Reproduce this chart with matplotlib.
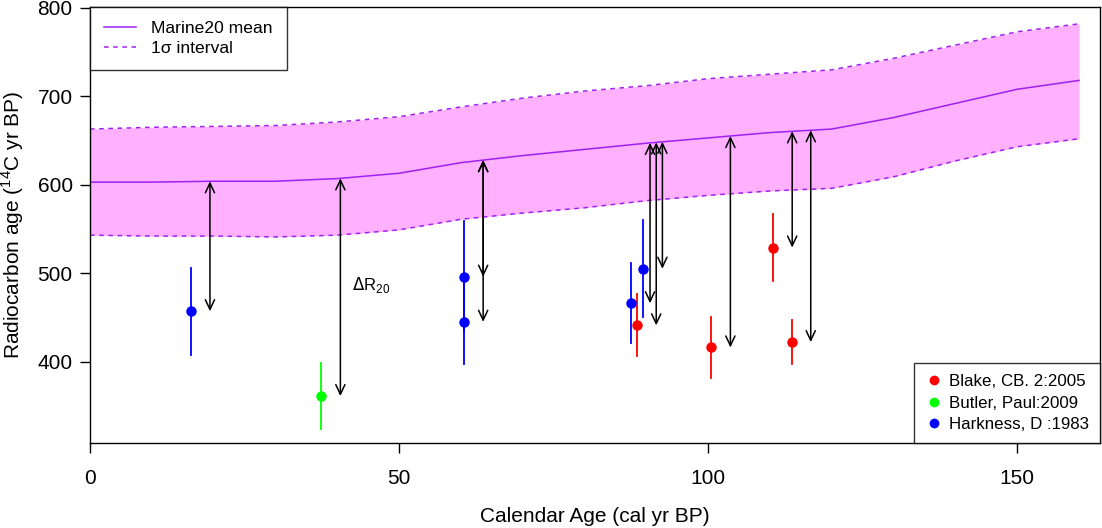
import numpy as np
import matplotlib
matplotlib.use('Agg')
import matplotlib.pyplot as plt
from matplotlib.lines import Line2D

plt.rcParams['font.family'] = ['Liberation Sans', 'DejaVu Sans']

# Marine20 curve (calendar age, mean and 1-sigma limits)
cal_age = [0, 10, 20, 30, 40, 50, 60, 70, 80, 90, 100, 110, 120, 130, 140, 150, 160]
c14_mean = [603, 603, 604, 604, 607, 613, 625, 633, 640, 647, 653, 659, 663, 676, 692, 708, 718]
c14_upper = [663, 665, 666, 667, 671, 677, 688, 698, 706, 712, 720, 725, 730, 743, 758, 773, 782]
c14_lower = [543, 542, 542, 541, 543, 549, 561, 568, 574, 582, 588, 593, 596, 609, 627, 643, 652]

# Observations
blake_x = [88.5, 100.5, 110.5, 113.5]
blake_y = [441, 416, 529, 422]
blake_err = [35, 35, 38, 25]

butler_x = [37.4]
butler_y = [361]
butler_err = [37]

harkness_x = [16.3, 60.5, 60.5, 87.5, 89.5]
harkness_y = [457, 496, 445, 466, 505]
harkness_err = [49, 63, 48, 45, 55]

arrow_offset = 3.1

fig = plt.figure(figsize=(11.02, 5.28), dpi=100)
ax = fig.add_axes([0.0817, 0.161, 0.9165, 0.8257])

purple = '#A020F0'
ax.fill_between(cal_age, c14_lower, c14_upper, color='#FFB0FF', lw=0, zorder=1)
ax.plot(cal_age, c14_mean, color=purple, lw=1.1, zorder=2)
ax.plot(cal_age, c14_upper, color=purple, lw=1.1, ls=(0, (3, 3)), zorder=2)
ax.plot(cal_age, c14_lower, color=purple, lw=1.1, ls=(0, (3, 3)), zorder=2)

groups = [(blake_x, blake_y, blake_err, '#FF0000'),
          (butler_x, butler_y, butler_err, '#00FF00'),
          (harkness_x, harkness_y, harkness_err, '#0000FF')]

for xs, ys, errs, col in groups:
    for x, y, e in zip(xs, ys, errs):
        ax.plot([x, x], [y - e, y + e], color=col, lw=1.3, zorder=3)
        ax.plot(x, y, 'o', color=col, ms=6.5, zorder=4)
        xa = x + arrow_offset
        top = np.interp(xa, cal_age, c14_mean)
        ax.annotate('', xy=(xa, y), xytext=(xa, top),
                    arrowprops=dict(arrowstyle='<->,head_length=0.7,head_width=0.33',
                                    color='black', lw=1.1, shrinkA=0, shrinkB=0),
                    zorder=5)

ax.text(42.4, 487, r'$\Delta\mathregular{R}_{\mathregular{20}}$', fontsize=12,
        ha='left', va='center')

ax.set_xlim(0, 163.4)
ax.set_ylim(308, 801)
ax.set_xticks([0, 50, 100, 150])
ax.set_yticks([400, 500, 600, 700, 800])
ax.tick_params(labelsize=15, length=7.5, width=1)
ax.tick_params(axis='x', pad=11)
ax.tick_params(axis='y', pad=5)
for s in ax.spines.values():
    s.set_linewidth(1)

ax.set_xlabel('Calendar Age (cal yr BP)', fontsize=15, labelpad=14)
ax.set_ylabel(r'Radiocarbon age ($^{\mathregular{14}}$C yr BP)', fontsize=15, labelpad=8)

h1 = [Line2D([], [], color=purple, lw=1.1),
      Line2D([], [], color=purple, lw=1.1, ls=(0, (3, 3)))]
leg1 = ax.legend(h1, ['Marine20 mean', '1σ interval'], loc='upper left',
                 fontsize=12.6, frameon=True, fancybox=False, edgecolor='black',
                 borderaxespad=0, handlelength=1.85, handletextpad=0.85,
                 borderpad=0.8, labelspacing=0.25)
leg1.get_frame().set_linewidth(1)
ax.add_artist(leg1)

h2 = [Line2D([], [], color=c, marker='o', ls='', ms=6) for c in ['#FF0000', '#00FF00', '#0000FF']]
leg2 = ax.legend(h2, ['Blake, CB. 2:2005', 'Butler, Paul:2009', 'Harkness, D :1983'],
                 loc='lower right', fontsize=12.2, frameon=True, fancybox=False,
                 edgecolor='black', borderaxespad=0, handletextpad=0.4,
                 handlelength=1.0, borderpad=0.65, labelspacing=0.38)
leg2.get_frame().set_linewidth(1)

fig.savefig('out.png', dpi=100)
